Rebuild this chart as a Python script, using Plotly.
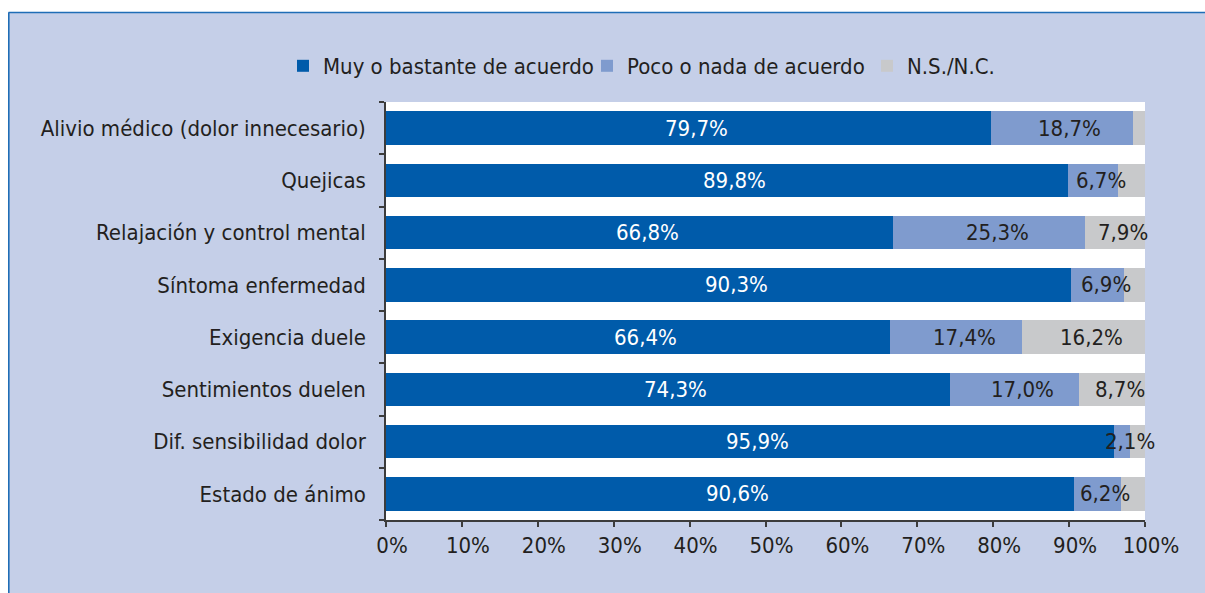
import plotly.graph_objects as go

categories = [
    "Alivio médico (dolor innecesario)",
    "Quejicas",
    "Relajación y control mental",
    "Síntoma enfermedad",
    "Exigencia duele",
    "Sentimientos duelen",
    "Dif. sensibilidad dolor",
    "Estado de ánimo",
]
muy = [79.7, 89.8, 66.8, 90.3, 66.4, 74.3, 95.9, 90.6]
poco = [18.7, 6.7, 25.3, 6.9, 17.4, 17.0, 2.1, 6.2]
ns = [1.6, 3.5, 7.9, 2.8, 16.2, 8.7, 2.0, 3.2]
ns_labeled = [False, False, True, False, True, True, False, False]

series_names = ["Muy o bastante de acuerdo", "Poco o nada de acuerdo", "N.S./N.C."]
colors = ["#005BAA", "#7F9BCE", "#C8C9CB"]
x_ticks = [0, 10, 20, 30, 40, 50, 60, 70, 80, 90, 100]

FONT = "DejaVu Sans Condensed, Liberation Sans, Arial, sans-serif"
FS = 22
TXT = "#231F20"

def fmt(v):
    return f"{v:.1f}".replace(".", ",") + "%"

# geometry in page pixels
W, H = 1205, 593
L, R, T, B = 386, 1145, 102, 520
pw, ph = R - L, B - T

def px(x):
    return (x - L) / pw

def py(y):
    return (B - y) / ph

legend_ids = ["legend", "legend2", "legend3"]
legend_text_left = [321, 625, 905]   # where each legend label starts

fig = go.Figure()
for name, vals, col, lid in zip(series_names, [muy, poco, ns], colors, legend_ids):
    fig.add_trace(go.Bar(
        y=categories, x=vals, name=name, orientation="h",
        marker=dict(color=col, line=dict(width=0)),
        legend=lid, hoverinfo="x+name",
    ))

# value labels, centred on each segment (drawn above all bars)
annotations = []
for i, cat in enumerate(categories):
    left = 0.0
    for s, vals in enumerate([muy, poco, ns]):
        v = vals[i]
        show = True if s < 2 else ns_labeled[i]
        if show:
            annotations.append(dict(
                x=left + v / 2, y=cat, xref="x", yref="y", text=fmt(v), showarrow=False,
                xshift=8, font=dict(family=FONT, size=FS, color="white" if s == 0 else TXT),
            ))
        left += v

panel = "#C5CFE8"
border = "#1F6DB6"
shapes = [
    dict(type="rect", xref="paper", yref="paper", x0=px(-10), x1=px(8), y0=py(H + 10), y1=py(-10),
         fillcolor="white", line=dict(width=0), layer="above"),
    dict(type="rect", xref="paper", yref="paper", x0=px(-10), x1=px(W + 10), y0=py(12), y1=py(-10),
         fillcolor="white", line=dict(width=0), layer="above"),
    dict(type="line", xref="paper", yref="paper", x0=px(8.5), x1=px(W + 10), y0=py(12.5), y1=py(12.5),
         line=dict(color=border, width=1.6), layer="above"),
    dict(type="line", xref="paper", yref="paper", x0=px(8.8), x1=px(8.8), y0=py(12.5), y1=py(H + 10),
         line=dict(color=border, width=1.6), layer="above"),
]

legend_common = dict(orientation="h", xanchor="left", y=py(66), yanchor="middle",
                     font=dict(family=FONT, size=FS, color=TXT), bgcolor="rgba(0,0,0,0)",
                     itemclick=False, itemdoubleclick=False)

fig.update_layout(
    width=W, height=H,
    margin=dict(l=L, r=W - R, t=T, b=H - B, pad=0),
    barmode="stack", bargap=0.36,
    paper_bgcolor=panel, plot_bgcolor="white",
    font=dict(family=FONT, size=FS, color=TXT),
    showlegend=True,
    legend=dict(x=px(legend_text_left[0] - 38), **legend_common),
    legend2=dict(x=px(legend_text_left[1] - 38), **legend_common),
    legend3=dict(x=px(legend_text_left[2] - 38), **legend_common),
    shapes=shapes,
    annotations=annotations,
    xaxis=dict(range=[0, 100.001], tickvals=x_ticks, ticktext=[f"{v}%" for v in x_ticks],
               showgrid=False, zeroline=False, showline=True, linecolor="#3C3C3C", linewidth=1.5,
               ticks="outside", ticklen=5, tickwidth=1.5, tickcolor="#3C3C3C",
               ticklabelshift=6,
               tickfont=dict(family=FONT, size=FS, color=TXT), fixedrange=True),
    yaxis=dict(categoryorder="array", categoryarray=categories[::-1],
               showgrid=False, zeroline=False, showline=True, linecolor="#3C3C3C", linewidth=1.5,
               ticks="outside", ticklen=5, tickwidth=1.5, tickcolor="#3C3C3C",
               tickson="boundaries", ticklabelstandoff=14,
               tickfont=dict(family=FONT, size=FS, color=TXT), fixedrange=True),
)

fig.write_html(
    "out.html",
    config={"displayModeBar": False},
    post_script="document.body.style.margin='0';document.body.style.overflow='hidden';",
)
